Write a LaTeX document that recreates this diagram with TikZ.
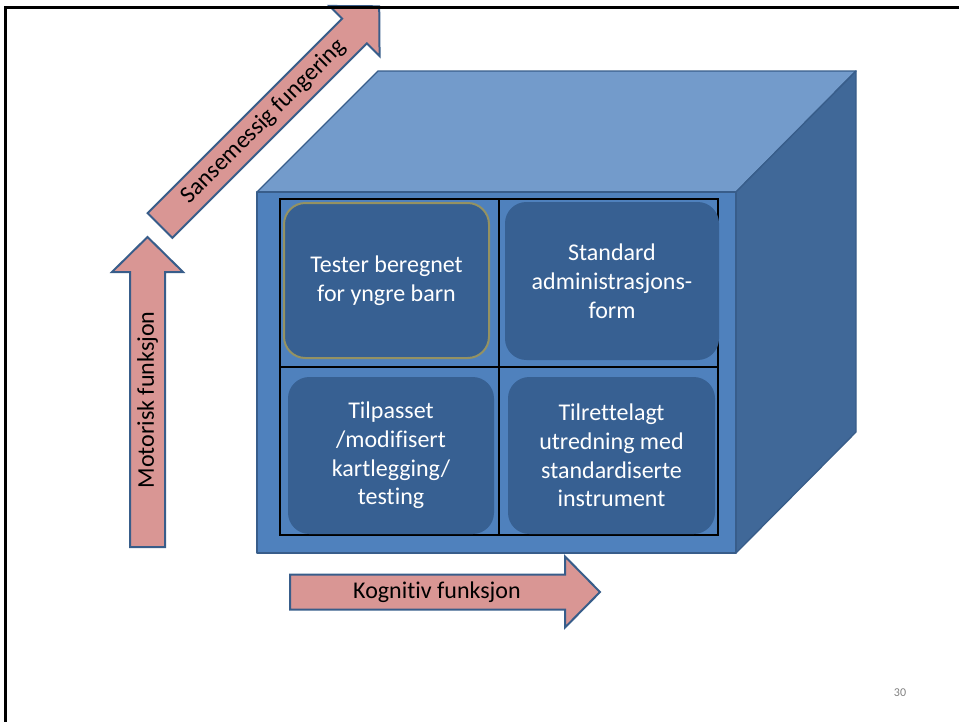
\documentclass[tikz,border=0pt]{standalone}
\usepackage{fontspec}
\setmainfont{Carlito}[Ligatures=NoCommon]
\definecolor{frontblue}{RGB}{79,129,189}
\definecolor{topblue}{RGB}{115,155,203}
\definecolor{sideblue}{RGB}{64,104,152}
\definecolor{cubeedge}{RGB}{56,93,138}
\definecolor{cellblue}{RGB}{55,96,146}
\definecolor{cellolive}{RGB}{148,146,98}
\definecolor{arrowpink}{RGB}{217,150,148}
\begin{document}
\begin{tikzpicture}[x=0.75pt,y=-0.75pt,
    cubeface/.style={draw=cubeedge,line width=1pt,line join=round},
    cell/.style={fill=cellblue,rounded corners=16pt,text=white,align=center,inner sep=0pt,font=\fontsize{18}{21.6}\selectfont},
    blockarrow/.style={fill=arrowpink,draw=cubeedge,line width=1.5pt,line join=miter},
    arrowlabel/.style={inner sep=0pt,font=\fontsize{18}{21.6}\selectfont}]
    \useasboundingbox (0,0) rectangle (959,721);
    \filldraw [cubeface,fill=topblue] (257,192) -- (378,71) -- (856,71) -- (736,192) -- cycle;
    \filldraw [cubeface,fill=sideblue] (736,192) -- (856,71) -- (856,432) -- (736,553) -- cycle;
    \filldraw [cubeface,fill=frontblue] (257,192) rectangle (736,553);
    \draw [black,line width=0.8pt] (280,199) rectangle (718,535);
    \draw [black,line width=0.8pt] (499,199) -- (499,535);
    \draw [black,line width=0.8pt] (280,367) -- (718,367);
    \node (young) [cell,draw=cellolive,line width=1.5pt,minimum width=153.75pt,minimum height=116.25pt] at (386.5,280.5) {Tester beregnet\\for yngre barn};
    \node (standard) [cell,minimum width=160.5pt,minimum height=118.5pt] at (612,281) {Standard\\administrasjons-\\form};
    \node (adapted) [cell,minimum width=154.5pt,minimum height=117.75pt] at (391,455.5) {Tilpasset\\/modifisert\\kartlegging/\\testing};
    \node (arranged) [cell,minimum width=155.25pt,minimum height=117.75pt] at (611.5,455.5) {Tilrettelagt\\utredning med\\standardiserte\\instrument};
    \foreach \name/\tx/\ty/\ang/\txt in {motor/147.5/547/90/Motorisk funksjon,
        sense/160/225.5/45/Sansemessig fungering,
        cogn/290/592/0/Kognitiv funksjon}{
      \begin{scope}[shift={(\tx,\ty)},rotate=\ang]
        \draw [blockarrow] (0,-17.5) -- (275,-17.5) -- (275,-35.5) -- (310,0) -- (275,35.5) -- (275,17.5) -- (0,17.5) -- cycle;
        \node (\name) [arrowlabel,rotate=\ang] at (147,0) {\txt};
      \end{scope}}
    \node (pagenum) [text=gray,font=\fontsize{9}{11}\selectfont] at (900,693) {30};
    \draw [black,line width=2.25pt] (5.5,740) -- (5.5,7.5) -- (980,7.5);
\end{tikzpicture}
\end{document}
